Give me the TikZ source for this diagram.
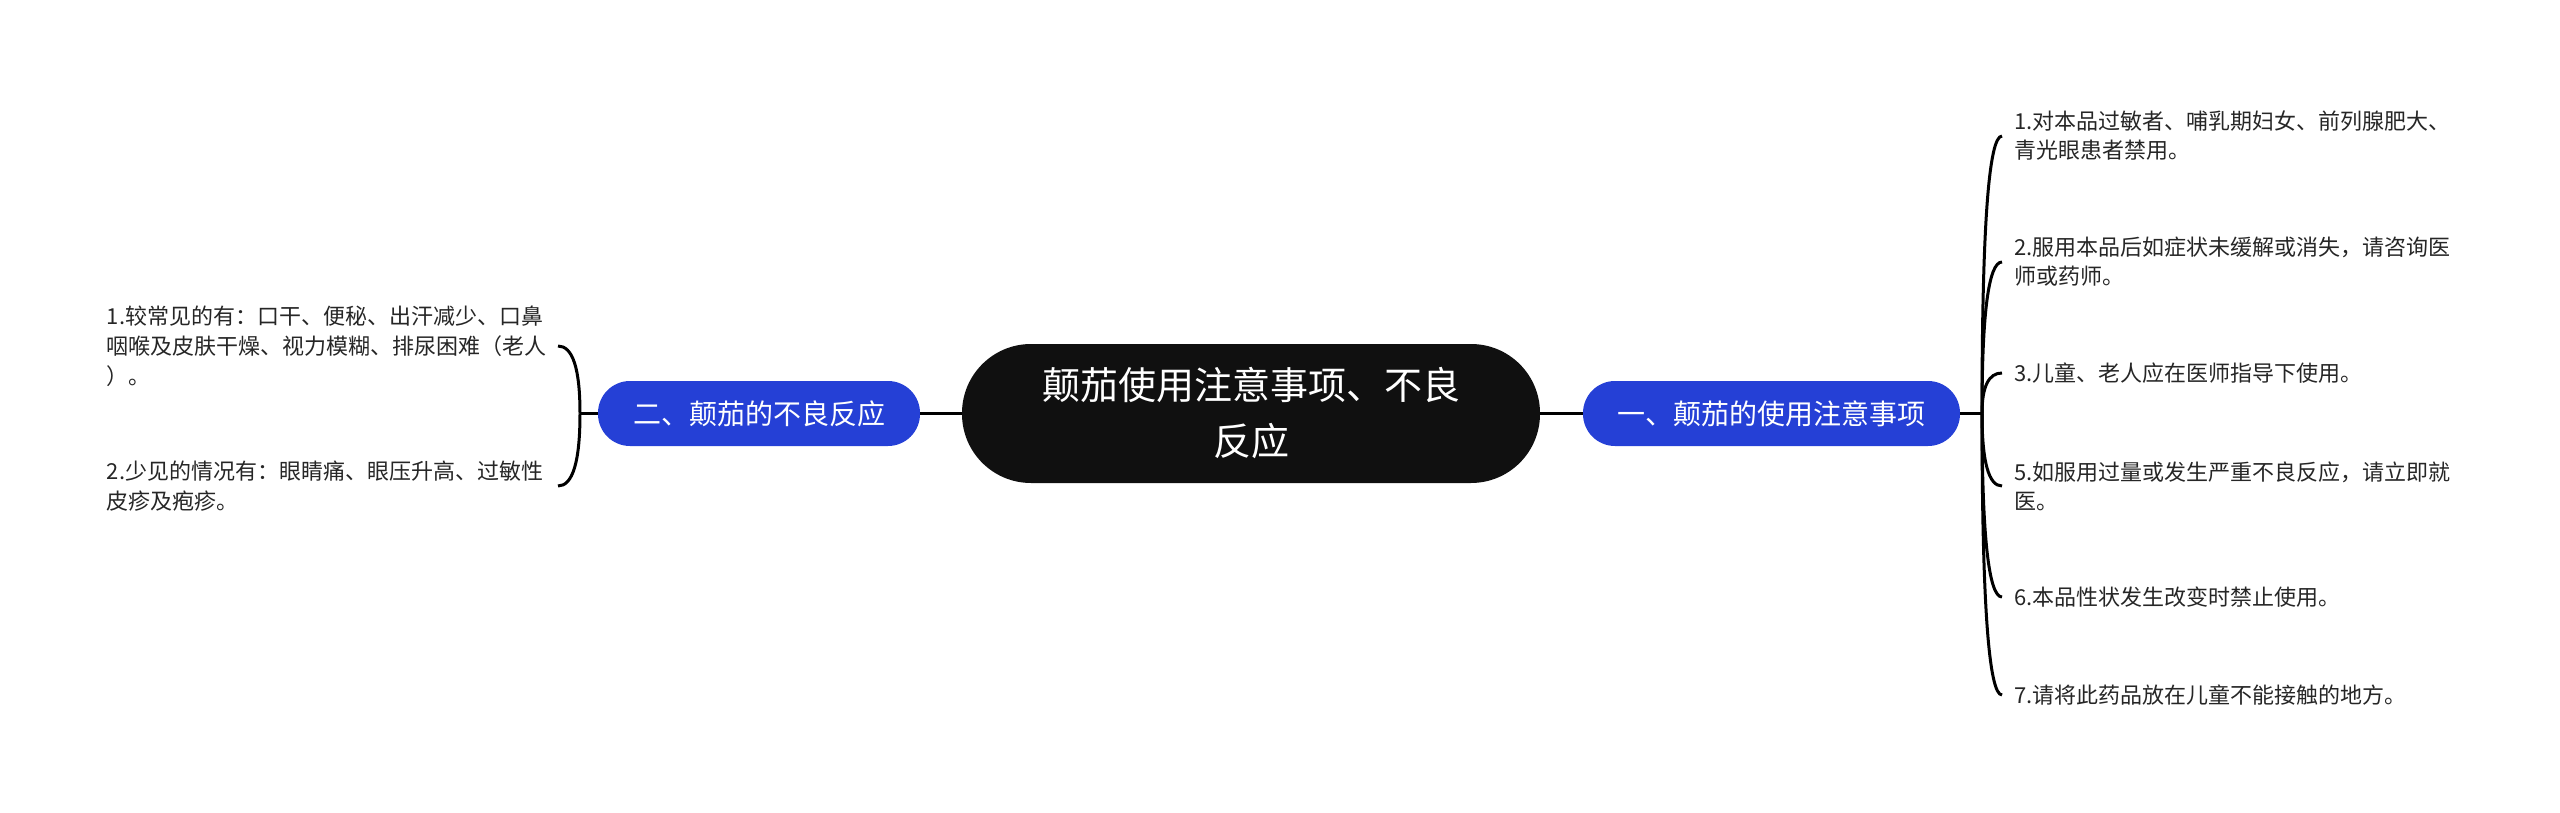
\documentclass[tikz,border=0pt]{standalone}
\usepackage{fontspec}
\setmainfont{Noto Sans CJK SC}
\usetikzlibrary{calc}
\definecolor{rootfill}{HTML}{101010}
\definecolor{bluefill}{HTML}{2540D6}
\definecolor{leaftext}{HTML}{262626}
\begin{document}
\begin{tikzpicture}[x=1pt,y=-1pt,
  rootnode/.style={fill=rootfill, text=white, minimum width=578pt, minimum height=139pt,
    rounded corners=69pt, inner sep=0pt, align=center,
    font=\fontsize{38pt}{56pt}\selectfont},
  bluenode/.style={fill=bluefill, text=white, minimum height=65pt, rounded corners=32pt,
    inner sep=0pt, font=\fontsize{28pt}{34pt}\selectfont},
  rleaf/.style={anchor=west, inner xsep=12pt, inner ysep=0pt, align=left, text=leaftext,
    font=\fontsize{22pt}{29pt}\selectfont},
  lleaf/.style={anchor=east, inner xsep=6pt, inner ysep=0pt, text width=445pt, align=left,
    text=leaftext, font=\fontsize{22pt}{30pt}\selectfont},
  conn/.style={draw=black, line width=3pt}]
\useasboundingbox (0,0) rectangle (2560,813);

\node[rootnode] (root) at (1251,413.5) {颠茄使用注意事项、不良\\反应};
\node[bluenode, minimum width=377pt] (rb) at (1771.5,413.5) {一、颠茄的使用注意事项};
\node[bluenode, minimum width=322pt] (lb) at (759,413.5) {二、颠茄的不良反应};

\coordinate (RT) at (1982,413.5);
\coordinate (LT) at (580,413.5);

\node[rleaf] (r1) at (2002,136) {1.对本品过敏者、哺乳期妇女、前列腺肥大、\\青光眼患者禁用。};
\node[rleaf] (r2) at (2002,262) {2.服用本品后如症状未缓解或消失，请咨询医\\师或药师。};
\node[rleaf] (r3) at (2002,373) {3.儿童、老人应在医师指导下使用。};
\node[rleaf] (r5) at (2002,486) {5.如服用过量或发生严重不良反应，请立即就\\医。};
\node[rleaf] (r6) at (2002,597) {6.本品性状发生改变时禁止使用。};
\node[rleaf] (r7) at (2002,695) {7.请将此药品放在儿童不能接触的地方。};

\node[lleaf] (l1) at (558,346) {1.较常见的有：口干、便秘、出汗减少、口鼻\\咽喉及皮肤干燥、视力模糊、排尿困难（老人\\）。};
\node[lleaf] (l2) at (558,486) {2.少见的情况有：眼睛痛、眼压升高、过敏性\\皮疹及疱疹。};

\draw[conn] (root.east) -- (rb.west);
\draw[conn] (root.west) -- (lb.east);
\draw[conn] (rb.east) -- (RT);
\draw[conn] (lb.west) -- (LT);

\foreach \n in {r1,r2,r3,r5,r6,r7}{
  \draw[conn] (RT) .. controls ($(RT)!0.667!(RT|-\n.west)$) and ($(\n.west)!0.667!(RT|-\n.west)$) .. (\n.west);
}
\foreach \n in {l1,l2}{
  \draw[conn] (LT) .. controls ($(LT)!0.667!(LT|-\n.east)$) and ($(\n.east)!0.667!(LT|-\n.east)$) .. (\n.east);
}
\end{tikzpicture}
\end{document}
